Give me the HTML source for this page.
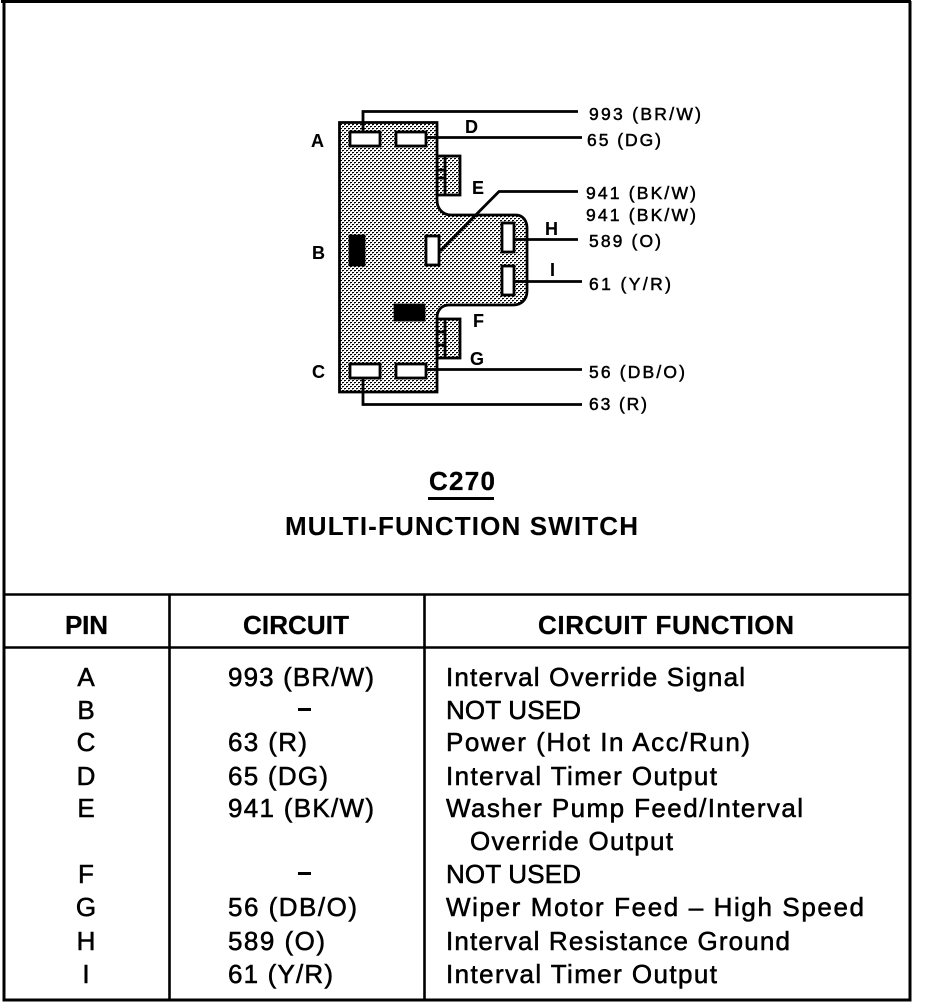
<!DOCTYPE html>
<html><head><meta charset="utf-8"><style>
html,body{margin:0;padding:0;background:#fff}
svg{display:block}
text{font-family:"Liberation Sans",sans-serif;fill:#000;stroke:#000}
.s{font-size:17.5px;stroke-width:.5px}
.l{font-size:18px;font-weight:bold;stroke-width:.1px}
.t{font-size:26px;stroke-width:.55px}
.h{font-size:26px;font-weight:bold;stroke-width:.3px}
</style></head><body>
<svg width="928" height="1004" viewBox="0 0 928 1004" xmlns="http://www.w3.org/2000/svg">
<defs>
<pattern id="d" width="4" height="4" patternUnits="userSpaceOnUse">
<rect width="4" height="4" fill="#fff"/>
<g fill="#000" shape-rendering="crispEdges">
<rect x="0" y="0" width="2" height="1"/>
<rect x="0" y="1" width="1" height="1" fill-opacity=".4"/>
<rect x="2" y="2" width="2" height="1"/>
<rect x="2" y="3" width="1" height="1" fill-opacity=".4"/>
</g>
</pattern>
</defs>
<rect width="928" height="1004" fill="#fff"/>
<g fill="none" stroke="#000" stroke-width="3">
<path d="M4 0V1000H910V1M1 1.500H911"/>
<path d="M4 594.500H910M4 647.500H910M169.500 595V1000M424.500 595V1000" stroke-width="2.600"/>
</g>
<g stroke="#000" stroke-width="2.800">
<rect x="437" y="156" width="23" height="39" fill="url(#d)"/>
<rect x="437" y="319" width="23" height="39" fill="url(#d)"/>
<path d="M437 170H445M437 178H445M445 156V195M437 332H445M437 345H445M445 319V358" fill="none"/>
<path d="M339.500 122.500H437V200C437 209 443 215 451 215H516C523 215 527 221 527 228V291C527 300 521 305 513 305H449C441 305 437 311 437 318V392H339.500Z" fill="url(#d)"/>
<g fill="#fff">
<rect x="350" y="132" width="30" height="14"/>
<rect x="396" y="132" width="30" height="14"/>
<rect x="350" y="364" width="30" height="14"/>
<rect x="396" y="364" width="30" height="14"/>
<rect x="426" y="236" width="13" height="29"/>
<rect x="502" y="223" width="12" height="29"/>
<rect x="502" y="266" width="12" height="29"/>
</g>
<rect x="350" y="236" width="14" height="29" fill="#000"/>
<rect x="395" y="305" width="29" height="15" fill="#000"/>
<g fill="none">
<path d="M363 132V111.500H578M426 137.500H582"/>
<path d="M440 251L499 191.500H578"/>
<path d="M514 239.500H578M514 281.500H582"/>
<path d="M426 369.500H582M363 378V404.500H582"/>
</g>
</g>
<text class="l" x="311" y="147">A</text>
<text class="l" x="312" y="259">B</text>
<text class="l" x="312" y="378">C</text>
<text class="l" x="465" y="133">D</text>
<text class="l" x="472" y="194">E</text>
<text class="l" x="473" y="327">F</text>
<text class="l" x="470" y="365">G</text>
<text class="l" x="545" y="235">H</text>
<text class="l" x="550" y="276">I</text>
<text class="s" x="589" y="120" textLength="112">993 (BR/W)</text>
<text class="s" x="587" y="146" textLength="74">65 (DG)</text>
<text class="s" x="586" y="199" textLength="110">941 (BK/W)</text>
<text class="s" x="586" y="221" textLength="110">941 (BK/W)</text>
<text class="s" x="589" y="247" textLength="72">589 (O)</text>
<text class="s" x="589" y="290" textLength="82">61 (Y/R)</text>
<text class="s" x="589" y="378" textLength="96">56 (DB/O)</text>
<text class="s" x="589" y="410" textLength="58">63 (R)</text>
<text x="429" y="490" textLength="66" style="font-size:26px;font-weight:bold;stroke-width:.3px">C270</text>
<rect x="428" y="497" width="66" height="3"/>
<text x="285" y="535" textLength="353" style="font-size:26px;font-weight:bold;stroke-width:.1px">MULTI-FUNCTION SWITCH</text>
<text class="h" x="65" y="634" textLength="43">PIN</text>
<text class="h" x="243" y="634" textLength="106">CIRCUIT</text>
<text class="h" x="538" y="634" textLength="256">CIRCUIT FUNCTION</text>
<g text-anchor="middle">
<text class="t" x="86" y="686">A</text>
<text class="t" x="86" y="719">B</text>
<text class="t" x="86" y="751">C</text>
<text class="t" x="86" y="785">D</text>
<text class="t" x="86" y="817">E</text>
<text class="t" x="86" y="883">F</text>
<text class="t" x="86" y="916">G</text>
<text class="t" x="86" y="950">H</text>
<text class="t" x="86" y="983">I</text>
</g>
<text class="t" x="228" y="686" textLength="146">993 (BR/W)</text>
<rect x="298" y="708" width="13" height="3"/>
<text class="t" x="228" y="751" textLength="79">63 (R)</text>
<text class="t" x="228" y="785" textLength="100">65 (DG)</text>
<text class="t" x="228" y="817" textLength="146">941 (BK/W)</text>
<rect x="298" y="872" width="13" height="3"/>
<text class="t" x="228" y="916" textLength="129">56 (DB/O)</text>
<text class="t" x="228" y="950" textLength="97">589 (O)</text>
<text class="t" x="228" y="983" textLength="105">61 (Y/R)</text>
<text class="t" x="446" y="686" textLength="299">Interval Override Signal</text>
<text class="t" x="446" y="719" textLength="135">NOT USED</text>
<text class="t" x="446" y="751" textLength="304">Power (Hot In Acc/Run)</text>
<text class="t" x="446" y="785" textLength="271">Interval Timer Output</text>
<text class="t" x="446" y="817" textLength="357">Washer Pump Feed/Interval</text>
<text class="t" x="470" y="850" textLength="203">Override Output</text>
<text class="t" x="446" y="883" textLength="135">NOT USED</text>
<text class="t" x="446" y="916" textLength="418">Wiper Motor Feed – High Speed</text>
<text class="t" x="446" y="950" textLength="344">Interval Resistance Ground</text>
<text class="t" x="446" y="983" textLength="271">Interval Timer Output</text>
</svg>
</body></html>
